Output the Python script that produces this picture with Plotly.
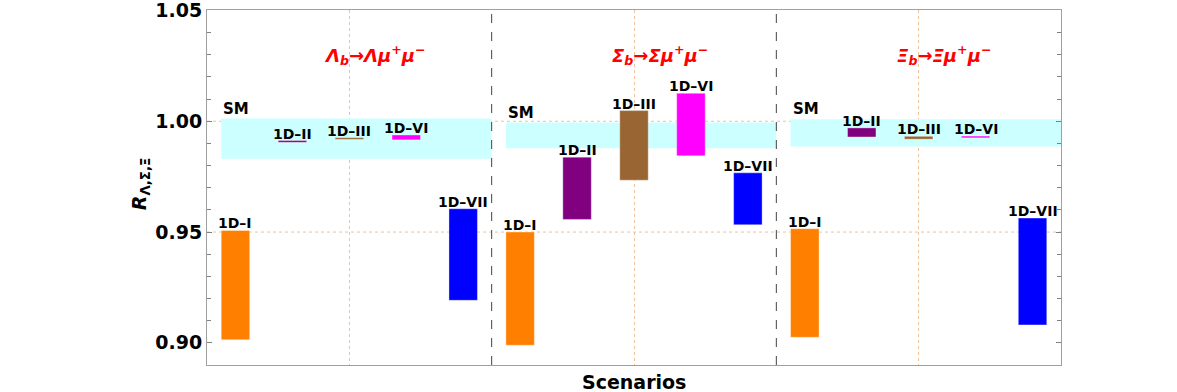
"""Ratio R for b-baryon decays across 1D scenarios."""

import plotly.graph_objects as go

# Data
decays = ["Λ", "Σ", "Ξ"]
scenarios = ["1D–I", "1D–II", "1D–III", "1D–VI", "1D–VII"]
colors = ["#FF8000", "#800080", "#996633", "#FF00FF", "#0000FF"]

lam_low = [0.9014, 0.9905, 0.9918, 0.9916, 0.9192]
lam_high = [0.9507, 0.9913, 0.9926, 0.9938, 0.9605]
sig_low = [0.8989, 0.9557, 0.9734, 0.9844, 0.9533]
sig_high = [0.9500, 0.9838, 1.0048, 1.0126, 0.9767]
xi_low = [0.9025, 0.9929, 0.9919, 0.9925, 0.9081]
xi_high = [0.9515, 0.9970, 0.9932, 0.9933, 0.9563]

sm_low = [0.9831, 0.9878, 0.9886]
sm_high = [1.0012, 0.9994, 1.0009]

lows = [lam_low, sig_low, xi_low]
highs = [lam_high, sig_high, xi_high]

y_ticks = [0.90, 0.95, 1.00, 1.05]
grid_y = [0.95, 1.00]

BAR_W = 0.1
FONT = "DejaVu Sans"

fig = go.Figure()

# SM bands (one per panel)
for p in range(3):
    fig.add_trace(
        go.Bar(
            x=[p + 0.525],
            y=[sm_high[p] - sm_low[p]],
            base=[sm_low[p]],
            width=[0.95],
            marker=dict(color="#CCFFFF", line=dict(width=0)),
            showlegend=False,
            hoverinfo="skip",
        )
    )

# scenario bars
for p in range(3):
    for i, name in enumerate(scenarios):
        xc = p + 0.1 + 0.2 * i
        lo, hi = lows[p][i], highs[p][i]
        fig.add_trace(
            go.Bar(
                x=[xc],
                y=[hi - lo],
                base=[lo],
                width=[BAR_W],
                marker=dict(color=colors[i], line=dict(width=1, color="rgba(255,255,255,0.35)")),
                showlegend=False,
                hovertemplate=f"{name}: %{{base:.4f}}–{hi:.4f}<extra></extra>",
            )
        )
        fig.add_annotation(
            x=xc, y=hi, xref="x", yref="y",
            text=name, showarrow=False, yanchor="bottom", yshift=-3,
            font=dict(family=FONT, size=14, color="black", weight="bold"),
        )
    fig.add_annotation(
        x=p + 0.05, y=sm_high[p], xref="x", yref="y",
        text="SM", showarrow=False, xanchor="left", yanchor="bottom", yshift=-1,
        font=dict(family=FONT, size=15, color="black", weight="bold"),
    )
    d = decays[p]
    fig.add_annotation(
        x=p + 0.59, y=1.03, xref="x", yref="y",
        text=f"<i>{d}<sub>b</sub>→{d}μ<sup>+</sup>μ<sup>−</sup></i>",
        showarrow=False,
        font=dict(family=FONT, size=18, color="#FF0000", weight="bold"),
    )

# panel separators
for xs in [1, 2]:
    fig.add_shape(
        type="line", xref="x", yref="paper", x0=xs, x1=xs, y0=0, y1=1,
        line=dict(color="#444444", width=1, dash="dash"), layer="above",
    )

# horizontal dotted grid lines
for gy in grid_y:
    fig.add_shape(
        type="line", xref="paper", yref="y", x0=0, x1=1, y0=gy, y1=gy,
        line=dict(color="rgba(225,170,120,0.7)", width=1, dash="dot"), layer="below",
    )

fig.add_annotation(
    x=0.5, y=-0.012, xref="paper", yref="paper", yanchor="top",
    text="Scenarios", showarrow=False,
    font=dict(family=FONT, size=19, color="black", weight="bold"),
)
fig.add_annotation(
    x=-0.094, y=0.51, xref="paper", yref="paper", textangle=-90,
    text="<i>R</i><sub>Λ,Σ,Ξ</sub>", showarrow=False,
    font=dict(family=FONT, size=19, color="black", weight="bold"),
)

fig.update_layout(
    width=1177,
    height=392,
    barmode="overlay",
    paper_bgcolor="white",
    plot_bgcolor="white",
    margin=dict(l=207, r=116, t=10, b=27),
    xaxis=dict(
        range=[0, 3],
        tickvals=[0.5, 1.5, 2.5],
        showticklabels=False,
        ticks="",
        showgrid=True,
        gridcolor="rgba(225,170,120,0.7)",
        griddash="dot",
        gridwidth=1,
        zeroline=False,
        showline=True,
        linecolor="#A0A0A0",
        linewidth=1,
        mirror=True,
        automargin=False,
    ),
    yaxis=dict(
        range=[0.89, 1.0502],
        tickvals=y_ticks,
        ticktext=[f"{v:.2f}" for v in y_ticks],
        tickfont=dict(family=FONT, size=19, color="black", weight="bold"),
        ticklabeloverflow="allow",
        automargin=False,
        ticks="inside",
        ticklen=5,
        tickcolor="#808080",
        showgrid=False,
        zeroline=False,
        showline=True,
        linecolor="#A0A0A0",
        linewidth=1,
        mirror="ticks",
        minor=dict(dtick=0.01, tick0=0.9, ticks="inside", ticklen=4, tickcolor="#808080", showgrid=False),
    ),
)

# drop the page's default body margin so the figure sits at the window origin
fig.write_html(
    "out.html",
    config={"displayModeBar": False},
    post_script="document.body.style.margin = '0';",
)
